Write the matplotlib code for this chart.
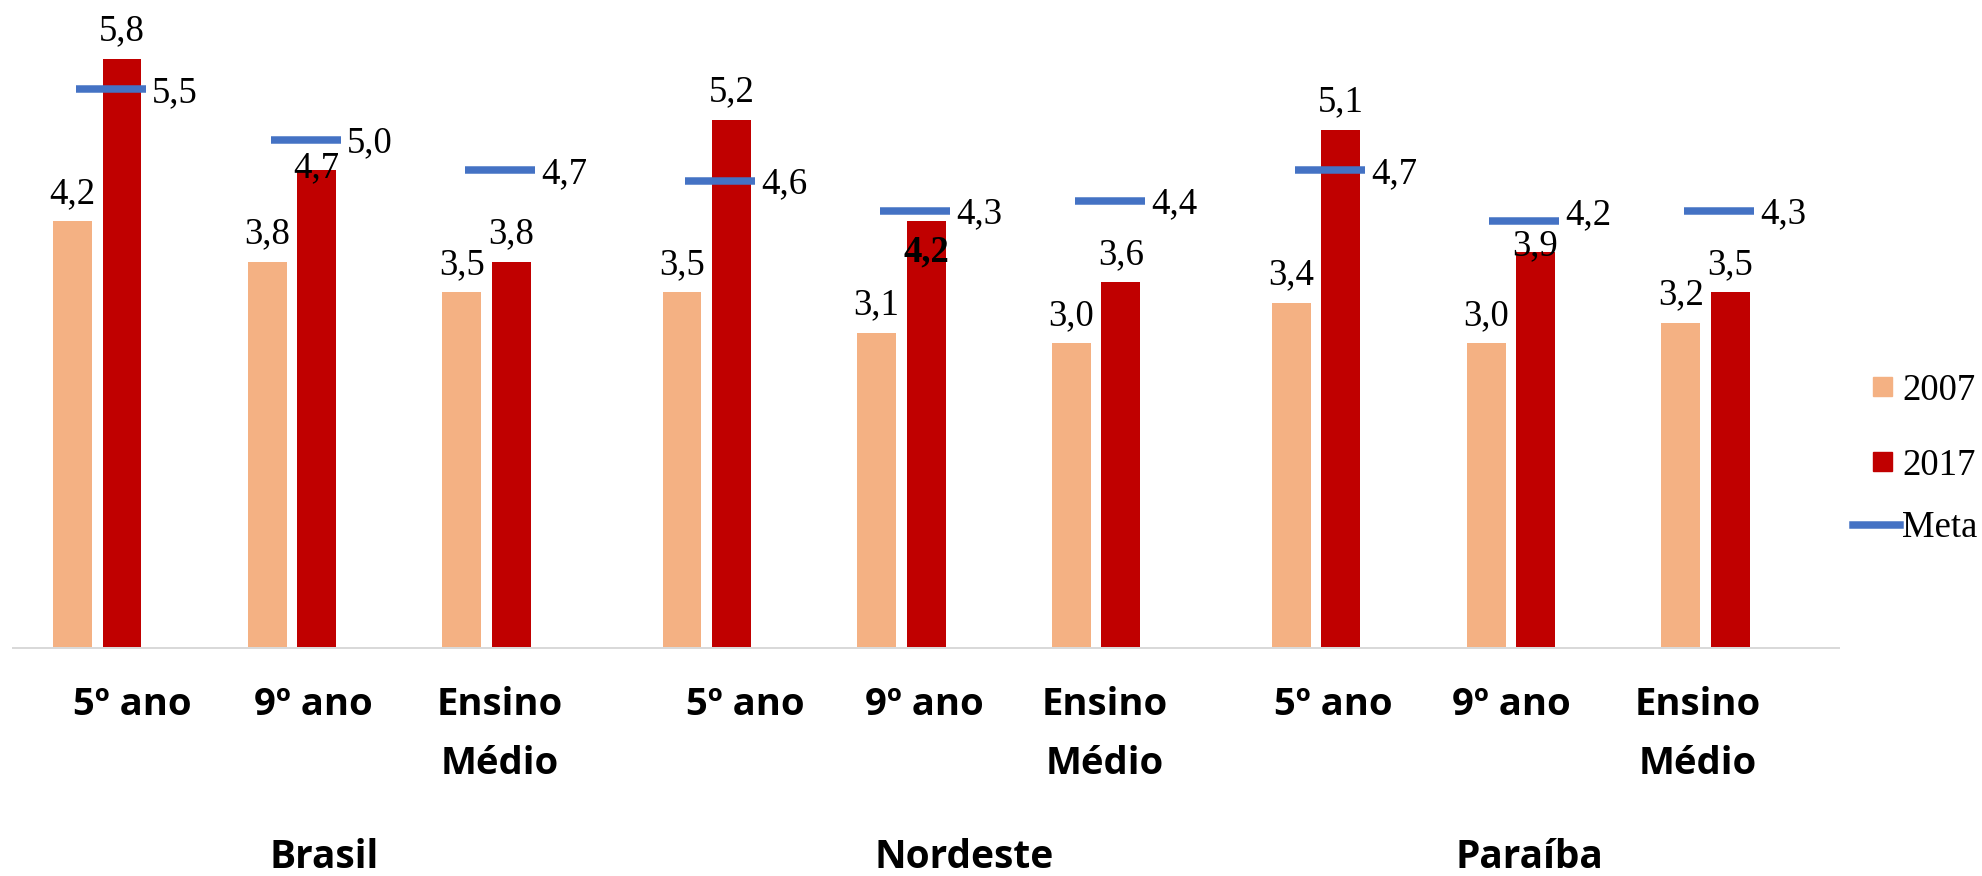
import matplotlib
matplotlib.use("Agg")
import matplotlib.pyplot as plt
from matplotlib.patches import Rectangle
from matplotlib.lines import Line2D

# ---------------- data ----------------
regions = ["Brasil", "Nordeste", "Paraíba"]
levels = ["5º ano", "9º ano", "Ensino\nMédio"]
series_names = ["2007", "2017", "Meta"]
ideb_2007 = [4.2, 3.8, 3.5, 3.5, 3.1, 3.0, 3.4, 3.0, 3.2]
ideb_2017 = [5.8, 4.7, 3.8, 5.2, 4.2, 3.6, 5.1, 3.9, 3.5]
meta = [5.5, 5.0, 4.7, 4.6, 4.3, 4.4, 4.7, 4.2, 4.3]

# ---------------- style ----------------
C07 = "#F4B183"
C17 = "#C00000"
CMETA = "#4472C4"
SERIF = ["Liberation Serif", "DejaVu Serif"]
SANS = ["Open Sans", "DejaVu Sans"]
W, H = 1982, 876
DPI = 100
PX = 72.0 / DPI  # points per pixel

fig = plt.figure(figsize=(W / DPI, H / DPI), dpi=DPI)
base_px = 648
ymax = 6.3
unit_px = 101.6
ax_left_px, ax_right_px = 12.6, 1839
ax = fig.add_axes([ax_left_px / W, (H - base_px) / H,
                   (ax_right_px - ax_left_px) / W, ymax * unit_px / H])

group_step = 3.13
pos = [g * group_step + c for g in range(len(regions)) for c in range(len(levels))]
bw = 0.2
off = 0.127

ax.bar([p - off for p in pos], ideb_2007, width=bw, color=C07, zorder=2)
ax.bar([p + off for p in pos], ideb_2017, width=bw, color=C17, zorder=2)
ax.hlines(meta, [p - 0.11 for p in pos], [p + 0.25 for p in pos],
          color=CMETA, linewidth=7.5 * PX, zorder=3)

ax.set_xlim(-0.435, -0.435 + (ax_right_px - ax_left_px) / 194.7)
ax.set_ylim(0, ymax)
for s in ["top", "left", "right"]:
    ax.spines[s].set_visible(False)
ax.spines["bottom"].set_color("#D9D9D9")
ax.spines["bottom"].set_linewidth(2 * PX)
ax.set_xticks([])
ax.set_yticks([])

fmt = lambda v: f"{v:.1f}".replace(".", ",")
FS = 26.5

# label nudges (pixels, relative to default baseline 18.5 px above bar top)
nudge17 = {1: -25.0, 4: -58.5, 7: -21.5}
for i, (p, v) in enumerate(zip(pos, ideb_2007)):
    ax.annotate(fmt(v), (p - off, v), xytext=(0, 18.5 * PX), textcoords="offset points",
                ha="center", va="baseline", fontsize=FS, family=SERIF, zorder=4)
for i, (p, v) in enumerate(zip(pos, ideb_2017)):
    dy = 18.5 + nudge17.get(i, 0)
    ax.annotate(fmt(v), (p + off, v), xytext=(0, dy * PX), textcoords="offset points",
                ha="center", va="baseline", fontsize=FS, family=SERIF, zorder=4,
                fontweight="bold" if i == 4 else "normal")
nudge_meta = {7: 10}
for i, (p, v) in enumerate(zip(pos, meta)):
    dy = -12.5 + nudge_meta.get(i, 0)
    ax.annotate(fmt(v), (p + 0.25, v), xytext=(6 * PX, dy * PX), textcoords="offset points",
                ha="left", va="baseline", fontsize=FS, family=SERIF, zorder=4)

# category labels (figure pixel layout)
def fx(x):
    return x / W

def fy(y):
    return 1 - y / H

cat_x = [132.7, 313.5, 499.3, 745.8, 924.0, 1104.8, 1333.5, 1511.8, 1697.6]
for i, x in enumerate(cat_x):
    lab = levels[i % len(levels)]
    for j, line in enumerate(lab.split("\n")):
        fig.text(fx(x), fy(715 + j * 59), line, ha="center", va="baseline",
                 fontsize=27.5, fontweight="bold", family=SANS)

grp_x = [324, 964.5, 1529.5]
for x, r in zip(grp_x, regions):
    fig.text(fx(x), fy(868), r, ha="center", va="baseline",
             fontsize=28, fontweight="bold", family=SANS)

# legend (manual)
for (yt, c, name) in [(377, C07, series_names[0]), (452, C17, series_names[1])]:
    fig.add_artist(Rectangle((fx(1873), fy(yt + 19)), 19 / W, 19 / H,
                             transform=fig.transFigure, color=c))
    fig.text(fx(1902), fy(yt + 23), name, ha="left", va="baseline",
             fontsize=FS, family=SERIF)
fig.add_artist(Line2D([fx(1853), fx(1900)], [fy(525), fy(525)],
                      transform=fig.transFigure, color=CMETA, linewidth=7.5 * PX))
fig.text(fx(1902), fy(537), series_names[2], ha="left", va="baseline",
         fontsize=FS, family=SERIF)

fig.savefig("out.png", dpi=DPI)
